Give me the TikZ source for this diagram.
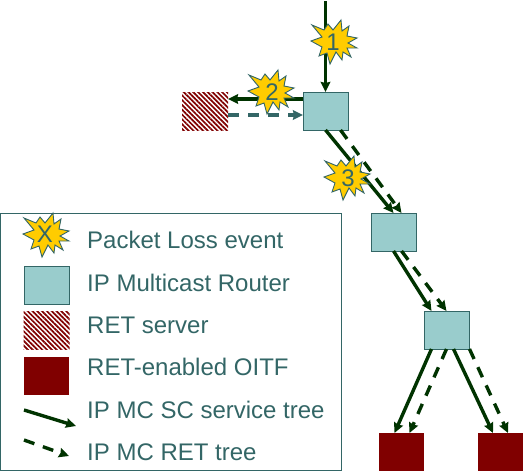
\documentclass[tikz,border=0pt]{standalone}
\usepackage{fontspec}
\setmainfont{Liberation Sans}
\usetikzlibrary{arrows.meta,patterns.meta}
\definecolor{teal}{HTML}{336666}
\definecolor{boxfill}{HTML}{99CCCC}
\definecolor{darkred}{HTML}{800000}
\definecolor{burst}{HTML}{FFCC00}
\definecolor{treegreen}{HTML}{003300}
\tikzset{
  router/.style={draw=teal,line width=0.9pt,fill=boxfill,minimum width=45pt,minimum height=38pt,inner sep=0pt,outer sep=0pt},
  oitf/.style={fill=darkred,minimum width=45pt,minimum height=38pt,inner sep=0pt,outer sep=0pt},
  retserver/.style={pattern={Lines[angle=-45,distance=3.4pt,line width=1.7pt]},pattern color=darkred,minimum width=46pt,minimum height=38pt,inner sep=0pt,outer sep=0pt},
  sctree/.style={draw=treegreen,line width=3.4pt,-{Stealth[length=10pt,width=9.5pt,inset=1pt]}},
  rettree/.style={draw=treegreen,line width=3.4pt,dash pattern=on 11pt off 9pt,-{Stealth[length=10pt,width=9.5pt,inset=1pt]}},
  rettreeteal/.style={rettree,draw=teal},
  legendtext/.style={text=teal,font=\fontsize{24}{24}\selectfont,anchor=west,inner sep=0pt},
  bursttext/.style={text=teal,font=\fontsize{24}{24}\selectfont,inner sep=0pt},
  burstshape/.style={draw=teal,line width=0.9pt,fill=burst,line join=miter},
  pics/explosion/.style={code={
    \draw[burstshape] (-22,-17)--(-10,-12)--(-6,-18)--(-1,-12)--(7,-22)--(8,-11)--(15,-16)--(13,-6)--(23,-4)--(14,1)--(23,6)--(13,6)--(17,15)--(9,10)--(8,18)--(2,10)--(-4,22)--(-7,11)--(-15,14)--(-12,5)--(-23,-1)--(-12,-5)--cycle;
  }}
}
\begin{document}
\begin{tikzpicture}[x=1pt,y=-1pt]
\useasboundingbox (0,0) rectangle (523,471);
% legend frame
\node[draw=teal,line width=1pt,minimum width=341pt,minimum height=257pt,inner sep=0pt,outer sep=0pt] (legend) at (171,341.5) {};
% network nodes
\node[router] (r1) at (325.5,111) {};
\node[router] (r2) at (393.5,232) {};
\node[router] (r3) at (446.5,330) {};
\node[retserver] (srv) at (205,111) {};
\node[oitf] (o1) at (401.5,452) {};
\node[oitf] (o2) at (500,452) {};
\coordinate (top) at (325.5,1);
% connectors
\draw[sctree] (top) -- (r1.north);
\draw[sctree] ([yshift=12pt]r1.west) -- ([yshift=12pt]srv.east);
\draw[rettreeteal] ([yshift=-4pt]srv.east) -- ([yshift=-4pt]r1.west);
\draw[sctree] (r1.south) -- (r2.north);
\draw[rettree] ([xshift=15pt]r1.south) -- ([xshift=8pt]r2.north);
\draw[sctree] (r2.south) -- ([xshift=-15pt]r3.north);
\draw[rettree] ([xshift=8pt]r2.south) -- (r3.north);
\draw[sctree] ([xshift=-15pt]r3.south) -- ([xshift=-7pt]o1.north);
\draw[rettree] (r3.south) -- ([xshift=8pt]o1.north);
\draw[sctree] ([xshift=7pt]r3.south) -- ([xshift=-7pt]o2.north);
\draw[rettree] ([xshift=23pt]r3.south) -- ([xshift=8pt]o2.north);
% loss events
\pic at (334,42) {explosion};
\node[bursttext] (l1) at (333,42) {1};
\pic at (271,92) {explosion};
\node[bursttext] (l2) at (272,92) {2};
\pic at (347,178) {explosion};
\node[bursttext] (l3) at (348,178) {3};
% legend
\pic at (46,235) {explosion};
\node[bursttext] (lx) at (45,234) {X};
\node[router] (lr) at (46.5,285) {};
\node[retserver] (ls) at (46.5,330.5) {};
\node[oitf] (lo) at (46.5,376) {};
\coordinate (a1) at (24,410);
\coordinate (a2) at (76,426);
\coordinate (b1) at (24,440);
\coordinate (b2) at (69,456);
\draw[sctree] (a1) -- (a2);
\draw[rettree] (b1) -- (b2);
\node[legendtext] (t1) at (87,240) {Packet Loss event};
\node[legendtext] (t2) at (87,283) {IP Multicast Router};
\node[legendtext] (t3) at (87,325) {RET server};
\node[legendtext] (t4) at (87,367) {RET-enabled OITF};
\node[legendtext] (t5) at (87,410) {IP MC SC service tree};
\node[legendtext] (t6) at (87,452) {IP MC RET tree};
\end{tikzpicture}
\end{document}
